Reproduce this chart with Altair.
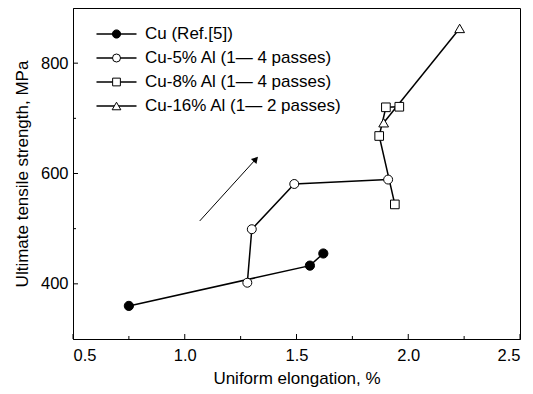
import altair as alt
import pandas as pd

# ---- data ----
cu_x = [0.75, 1.56, 1.62]
cu_y = [360, 433, 455]
al5_x = [1.28, 1.30, 1.49, 1.91]
al5_y = [402, 499, 581, 589]
al8_x = [1.94, 1.87, 1.90, 1.96]
al8_y = [544, 668, 720, 721]
al16_x = [1.89, 2.23]
al16_y = [692, 863]
series_labels = ["Cu (Ref.[5])", "Cu-5% Al (1\u2014 4 passes)",
                 "Cu-8% Al (1\u2014 4 passes)", "Cu-16% Al (1\u2014 2 passes)"]
arrow_x = [1.067, 1.318]
arrow_y = [514, 626]
x_major = [0.5, 1.0, 1.5, 2.0, 2.5]
x_minor = [0.75, 1.25, 1.75, 2.25]
y_major = [400, 600, 800]
y_minor = [500, 700]

W, H = 447, 331
FONT = "Liberation Sans"

xs = alt.Scale(domain=[0.5, 2.5], nice=False, zero=False)
ys = alt.Scale(domain=[300, 900], nice=False, zero=False)


def X():
    return alt.X("x:Q", scale=xs,
                 axis=alt.Axis(title="Uniform elongation, %", values=x_major,
                               format=".1f", ticks=False, grid=False,
                               labelPadding=8, titlePadding=7))


def Y():
    return alt.Y("y:Q", scale=ys,
                 axis=alt.Axis(title="Ultimate tensile strength, MPa",
                               values=y_major, ticks=False, grid=False,
                               labelPadding=5, titlePadding=9))


def df(xv, yv):
    return pd.DataFrame({"x": xv, "y": yv, "o": list(range(len(xv)))})


series = [
    (cu_x, cu_y, "circle", "black", 85),
    (al5_x, al5_y, "circle", "white", 80),
    (al8_x, al8_y, "square", "white", 75),
    (al16_x, al16_y, "triangle-up", "white", 95),
]

layers = []
for xv, yv, shp, fill, sz in series:
    layers.append(
        alt.Chart(df(xv, yv)).mark_line(color="black", strokeWidth=1.5)
        .encode(x=X(), y=Y(), order="o:Q"))
for xv, yv, shp, fill, sz in series:
    layers.append(
        alt.Chart(df(xv, yv)).mark_point(shape=shp, filled=True, fill=fill,
                                         stroke="black", strokeWidth=1,
                                         size=sz, opacity=1)
        .encode(x=X(), y=Y()))

# arrow annotation
layers.append(alt.Chart(df(arrow_x, arrow_y)).mark_line(color="black", strokeWidth=1)
              .encode(x=X(), y=Y(), order="o:Q"))
layers.append(alt.Chart(df(arrow_x[1:], arrow_y[1:])).mark_point(
    shape="triangle-up", filled=True, color="black", size=55, angle=42, opacity=1)
    .encode(x=X(), y=Y()))

# inward ticks
for vals, ln in [(x_major, 5), (x_minor, 3)]:
    layers.append(alt.Chart(pd.DataFrame({"x": vals})).mark_rule(color="black", strokeWidth=1)
                  .encode(x=X(), y=alt.value(H), y2=alt.value(H - ln)))
for vals, ln in [(y_major, 5), (y_minor, 3)]:
    layers.append(alt.Chart(pd.DataFrame({"y": vals})).mark_rule(color="black", strokeWidth=1)
                  .encode(y=Y(), x=alt.value(0), x2=alt.value(ln)))

# manual legend
one = pd.DataFrame({"a": [0]})
row_y = [26, 50, 74, 98]
for (xv, yv, shp, fill, sz), lab, ry in zip(series, series_labels, row_y):
    layers.append(alt.Chart(one).mark_rule(color="black", strokeWidth=1.5)
                  .encode(x=alt.value(23.5), x2=alt.value(63.5), y=alt.value(ry)))
    layers.append(alt.Chart(one).mark_point(shape=shp, filled=True, fill=fill,
                                            stroke="black", strokeWidth=1,
                                            size=sz * 0.8, opacity=1)
                  .encode(x=alt.value(43.5), y=alt.value(ry)))
    layers.append(alt.Chart(one).mark_text(text=lab, align="left", baseline="middle",
                                           font=FONT, fontSize=17, color="black")
                  .encode(x=alt.value(72), y=alt.value(ry)))

chart = alt.layer(*layers).properties(
    width=W, height=H,
    autosize="none",
    padding={"left": 73, "top": 8, "right": 13, "bottom": 55},
    background="white",
).configure_view(stroke="black", strokeWidth=1).configure_axis(
    domainColor="black", domainWidth=1,
    labelFont=FONT, labelFontSize=16.5, labelColor="black",
    titleFont=FONT, titleFontSize=17, titleFontWeight="normal", titleColor="black",
)

chart.save("out.html", embed_options={"renderer": "svg", "actions": False})
